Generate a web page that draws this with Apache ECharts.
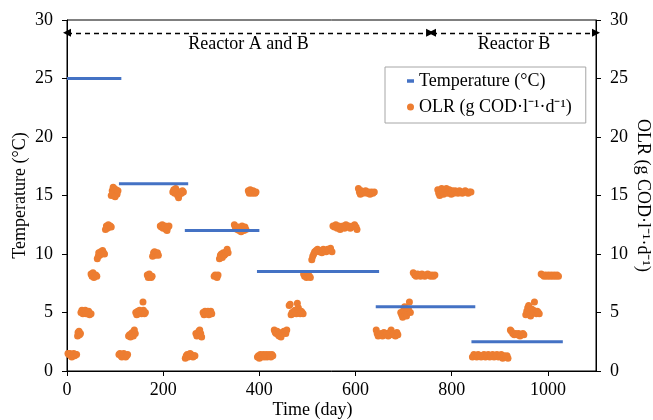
<!DOCTYPE html>
<html>
<head>
<meta charset="utf-8">
<script src="https://cdn.jsdelivr.net/npm/echarts@6/dist/echarts.min.js"></script>
<style>
  html, body { margin: 0; padding: 0; background: #fff; }
  #chart { width: 653px; height: 420px; }
</style>
</head>
<body>
<div id="chart"></div>
<script>
// temperature steps: start day, end day, value
var tempStart = [0, 108, 245, 395, 642, 841];
var tempEnd = [113, 252, 400, 649, 849, 1031];
var tempValue = [25, 16, 12, 8.5, 5.5, 2.5];

// OLR points [day, g COD/l/d], one array per temperature period
var olrCycle1 = [[2,1.5],[4,1.4],[6,1.5],[8,1.3],[10,1.2],[12,1.4],[14,1.5],[16,1.3],[18,1.4],[20,1.4],
  [22,3.0],[23,3.3],[25,3.4],[26,3.1],[28,3.2],
  [29,5.0],[31,5.2],[33,4.9],[35,5.1],[38,5.2],[40,4.9],[43,5.0],[45,5.1],[47,4.8],[50,4.9],
  [50,8.3],[52,8.1],[54,8.4],[56,8.0],[58,8.1],[60,8.2],[62,8.1],
  [63,9.6],[65,9.8],[66,10.1],[68,9.9],[70,10.2],[72,10.0],[74,10.3],[76,10.1],[78,10.0],
  [80,12.1],[82,12.4],[84,12.2],[86,12.5],[88,12.3],[90,12.4],[92,12.3],
  [92,15.0],[94,15.4],[96,15.2],[98,15.6],[100,15.3],[102,15.5],[104,15.1],[106,15.4],[100,14.9],[96,15.7]];
var olrCycle2 = [[108,1.4],[110,1.5],[112,1.3],[114,1.2],[116,1.4],[118,1.5],[120,1.3],[122,1.2],[124,1.3],[126,1.4],
  [128,3.0],[130,3.1],[132,2.9],[134,3.2],[136,3.3],[138,3.0],[140,3.5],[142,3.2],
  [143,5.0],[145,4.8],[147,5.1],[149,4.9],[151,5.2],[153,5.0],[155,4.9],[157,5.1],[159,5.2],[161,4.9],[163,5.0],[158,5.9],
  [167,8.2],[169,8.0],[171,8.3],[173,8.1],[175,8.0],[177,8.1],
  [178,9.8],[180,10.1],[182,10.2],[184,9.9],[186,10.0],[188,10.1],[190,9.9],
  [194,12.4],[196,12.3],[198,12.5],[200,12.2],[202,12.3],[204,12.4],[206,12.1],[208,12.0],[210,12.3],[212,12.4],
  [220,15.3],[222,15.5],[224,15.2],[226,15.6],[228,15.4],[230,15.0],[232,14.8],[234,15.1],[236,15.3],[238,15.2],[240,15.4],[242,15.3]];
var olrCycle3 = [[246,1.1],[248,1.3],[250,1.4],[252,1.2],[254,1.3],[256,1.5],[258,1.4],[260,1.3],[262,1.2],[264,1.3],[266,1.3],
  [268,3.2],[270,3.0],[272,3.1],[274,3.4],[276,3.5],[278,3.2],[280,2.9],
  [283,5.0],[285,4.8],[287,5.1],[289,4.9],[291,5.0],[293,5.1],[295,4.8],[297,5.0],[299,5.1],[301,4.9],
  [306,8.1],[308,8.2],[310,8.1],[312,8.0],[314,8.2],
  [317,9.6],[319,9.9],[321,10.0],[323,9.7],[325,10.1],[327,9.9],[329,10.0],[331,10.2],[333,10.4],[335,10.1],
  [348,12.5],[350,12.3],[352,12.2],[354,12.1],[356,12.3],[358,12.0],[360,12.2],[362,11.9],[364,12.4],[366,12.2],[368,12.0],[370,12.3],[372,12.1],
  [377,15.4],[379,15.2],[381,15.5],[383,15.3],[385,15.2],[387,15.4],[389,15.3],[391,15.2],[393,15.3]];
var olrCycle4 = [[396,1.2],[398,1.3],[400,1.1],[402,1.4],[404,1.2],[406,1.3],[408,1.4],[410,1.2],[412,1.3],[414,1.4],[416,1.2],[418,1.3],[420,1.4],[422,1.3],[424,1.2],[426,1.4],[428,1.3],
  [431,3.5],[433,3.3],[435,3.2],[437,3.4],[439,3.1],[441,3.0],[443,3.2],[445,2.9],[447,3.3],[449,3.2],[451,3.4],[453,3.3],[455,3.2],[457,3.5],
  [462,5.6],[464,5.7],[466,4.8],[468,5.0],[470,4.9],[472,5.1],[474,5.2],[477,4.9],[479,5.8],[481,5.4],[483,5.0],[485,4.9],[487,5.1],[489,5.0],[491,4.9],
  [492,8.3],[494,8.1],[496,8.2],[498,8.0],[500,8.1],[502,8.2],[504,8.1],[506,8.0],
  [509,9.5],[511,9.8],[513,10.0],[515,10.2],[518,10.3],[521,10.4],[524,10.2],[527,10.3],[530,10.1],[533,10.4],[536,10.3],[539,10.2],[542,10.4],[545,10.3],[548,10.5],[551,10.2],
  [553,12.4],[556,12.3],[559,12.5],[562,12.2],[565,12.4],[568,12.1],[571,12.3],[574,12.4],[577,12.2],[580,12.5],[583,12.3],[586,12.4],[589,12.2],[592,12.3],[595,12.4],[598,12.5],[601,12.3],[603,12.1],
  [606,15.6],[608,15.3],[610,15.1],[612,15.4],[615,15.2],[618,15.3],[621,15.4],[624,15.2],[627,15.3],[630,15.1],[633,15.3],[636,15.2],[639,15.3]];
var olrCycle5 = [[643,3.5],[645,3.2],[647,3.0],[650,3.1],[653,3.2],[656,3.0],[659,3.3],[662,3.1],[665,3.2],[668,3.0],[671,3.3],[674,3.5],[677,3.1],[680,3.2],[683,3.0],[686,3.3],[688,3.1],
  [694,5.0],[696,4.8],[698,4.6],[700,5.2],[702,5.5],[704,4.9],[706,4.7],[708,5.1],[710,5.3],[712,5.9],[714,5.0],
  [720,8.4],[723,8.2],[726,8.1],[729,8.3],[732,8.2],[735,8.1],[738,8.3],[741,8.2],[744,8.1],[747,8.2],[750,8.3],[753,8.2],[756,8.1],[759,8.2],[762,8.1],[765,8.2],
  [771,15.5],[773,15.2],[775,15.0],[777,15.4],[779,15.6],[781,15.3],[783,15.1],[785,15.5],[787,15.3],[789,15.6],[791,15.2],[793,15.4],[795,15.5],[797,15.3],[799,15.1],
  [801,15.4],[804,15.2],[807,15.4],[810,15.3],[813,15.2],[816,15.4],[819,15.3],[822,15.2],[825,15.3],[828,15.4],[831,15.3],[834,15.2],[837,15.3],[840,15.3]];
var olrCycle6 = [[843,1.2],[846,1.4],[849,1.3],[852,1.2],[855,1.4],[858,1.3],[861,1.2],[864,1.3],[867,1.4],[870,1.2],[873,1.3],[876,1.4],[879,1.2],
  [882,1.3],[885,1.4],[888,1.2],[891,1.3],[894,1.4],[897,1.2],[900,1.3],[903,1.4],[906,1.1],[909,1.3],[912,1.2],[915,1.3],[917,1.1],
  [922,3.5],[924,3.4],[927,3.2],[930,3.1],[933,3.2],[936,3.1],[939,3.2],[942,3.0],[945,3.1],[948,3.2],[950,3.1],
  [954,4.8],[956,5.1],[958,5.4],[960,5.6],[962,4.9],[964,4.7],[966,5.3],[968,5.0],[970,5.2],[972,5.9],[974,5.0],[976,4.9],[978,5.1],[980,5.0],[982,4.9],
  [986,8.3],[989,8.2],[992,8.1],[995,8.2],[998,8.1],[1001,8.2],[1004,8.1],[1007,8.2],[1010,8.1],[1013,8.2],[1016,8.1],[1019,8.2],[1022,8.1]];

// reactor periods (arrows at top)
var reactorNames = ["Reactor A and B", "Reactor B"];
var reactorFrom = [0, 759];
var reactorTo = [755, 1100];
var reactorLevel = 28.9;

var font = '"Liberation Serif", "Times New Roman", serif';
var tempName = "Temperature (°C)";
var olrName = "OLR (g COD·l⁻¹·d⁻¹)";

var series = [];
// 温度台阶
for (var i = 0; i < tempValue.length; i++) {
  series.push({
    name: tempName,
    type: "line",
    symbol: "none",
    symbolKeepAspect: true,
    lineStyle: { color: "#4472C4", width: 3 },
    itemStyle: { color: "#4472C4" },
    data: [[tempStart[i], tempValue[i]], [tempEnd[i], tempValue[i]]],
    z: 3
  });
}
series.push({
  name: olrName,
  type: "scatter",
  yAxisIndex: 1,
  symbolSize: 7,
  itemStyle: { color: "#ED7D31", opacity: 1 },
  data: [].concat(olrCycle1, olrCycle2, olrCycle3, olrCycle4, olrCycle5, olrCycle6),
  z: 2
});
// arrows
series.push({
  name: "reactor",
  type: "line",
  data: [],
  silent: true,
  markLine: {
    silent: true,
    symbol: ["triangle", "triangle"],
    symbolSize: [8, 8],
    lineStyle: { color: "#000", type: [5, 4], width: 1.3 },
    label: {
      show: true,
      position: "insideMiddleBottom",
      distance: 2,
      color: "#000",
      fontFamily: font,
      fontSize: 18,
      formatter: "{b}"
    },
    data: reactorNames.map(function (n, k) {
      return [
        { name: n, coord: [reactorFrom[k], reactorLevel] },
        { coord: [reactorTo[k], reactorLevel] }
      ];
    })
  }
});

var option = {
  animation: false,
  backgroundColor: "#fff",
  grid: {
    left: 67, right: 57, top: 20, bottom: 49,
    outerBoundsMode: "none",
    containLabel: false,
    show: true, borderColor: "#000", borderWidth: 1
  },
  legend: {
    data: [
      { name: tempName, icon: "path://M0,4h6v3h-6z" },
      { name: olrName, icon: "circle" }
    ],
    orient: "vertical",
    left: 385, top: 67,
    itemWidth: 7, itemHeight: 7,
    itemGap: 8,
    padding: [5, 14, 7, 22],
    borderColor: "#A6A6A6", borderWidth: 1,
    backgroundColor: "#fff",
    textStyle: { fontFamily: font, fontSize: 18, color: "#000" }
  },
  xAxis: {
    type: "value",
    min: 0, max: 1100, interval: 200,
    name: "Time (day)",
    nameLocation: "middle",
    nameGap: 30,
    nameMoveOverlap: false,
    nameTextStyle: { fontFamily: font, fontSize: 18, color: "#000", padding: [0, 38, 0, 0] },
    axisLine: { lineStyle: { color: "#000", width: 1 } },
    axisTick: { show: true, inside: false, length: 5, lineStyle: { color: "#000" } },
    axisLabel: {
      fontFamily: font, fontSize: 18, color: "#000", margin: 10, showMaxLabel: false,
      formatter: function (v) { return v >= 1100 ? "" : String(v); }
    },
    splitLine: { show: false }
  },
  yAxis: [
    {
      type: "value", min: 0, max: 30, interval: 5,
      name: tempName,
      nameLocation: "middle",
      nameGap: 38,
      nameMoveOverlap: false,
      nameTextStyle: { fontFamily: font, fontSize: 18, color: "#000" },
      axisLine: { show: true, lineStyle: { color: "#000", width: 1 } },
      axisTick: { show: true, length: 5, lineStyle: { color: "#000" } },
      axisLabel: { fontFamily: font, fontSize: 18, color: "#000", margin: 14 },
      splitLine: { show: false }
    },
    {
      type: "value", min: 0, max: 30, interval: 5,
      position: "right",
      name: olrName,
      nameLocation: "middle",
      nameGap: 38,
      nameMoveOverlap: false,
      nameRotate: 270,
      nameTextStyle: { fontFamily: font, fontSize: 18, color: "#000" },
      axisLine: { show: true, lineStyle: { color: "#000", width: 1 } },
      axisTick: { show: true, length: 5, lineStyle: { color: "#000" } },
      axisLabel: { fontFamily: font, fontSize: 18, color: "#000", margin: 14 },
      splitLine: { show: false }
    }
  ],
  series: series
};

var chartObj = echarts.init(document.getElementById("chart"));
chartObj.setOption(option);
</script>
</body>
</html>
